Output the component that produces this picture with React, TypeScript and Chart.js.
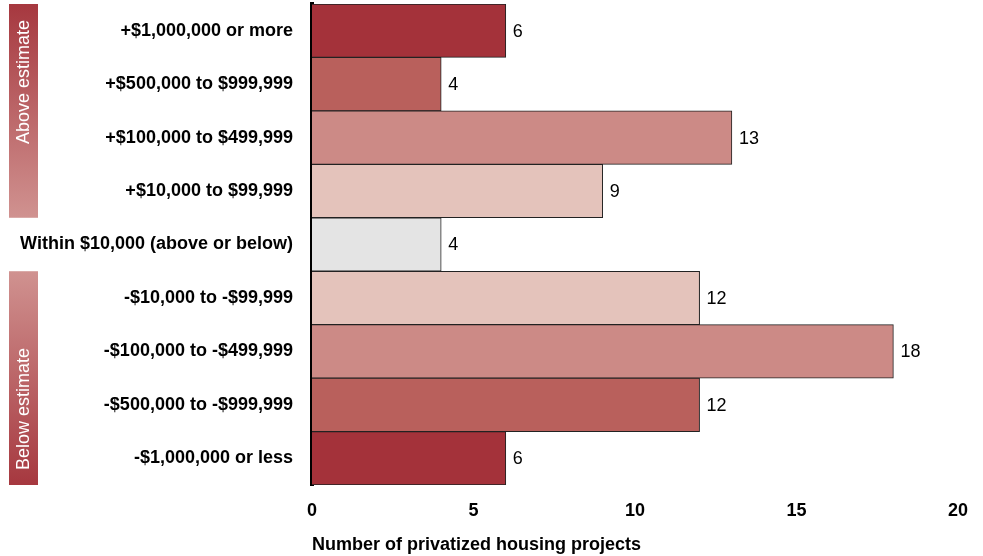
import React, { useEffect, useRef } from "react";
import { Chart, registerables } from "chart.js";

Chart.register(...registerables);

const categories = [
  "+$1,000,000 or more",
  "+$500,000 to $999,999",
  "+$100,000 to $499,999",
  "+$10,000 to $99,999",
  "Within $10,000 (above or below)",
  "-$10,000 to -$99,999",
  "-$100,000 to -$499,999",
  "-$500,000 to -$999,999",
  "-$1,000,000 or less",
];
const projectCounts = [6, 4, 13, 9, 4, 12, 18, 12, 6];
const barColors = [
  "#A4323A",
  "#B9605C",
  "#CC8A86",
  "#E4C3BB",
  "#E4E4E4",
  "#E4C3BB",
  "#CC8A86",
  "#B9605C",
  "#A4323A",
];
const groups = [
  { label: "Above estimate", from: 0, to: 3, topColor: "#A6383F", bottomColor: "#D09290", anchor: "top" },
  { label: "Below estimate", from: 5, to: 8, topColor: "#D09290", bottomColor: "#A6383F", anchor: "bottom" },
];
const xTicks = [0, 5, 10, 15, 20];
const axisTitle = "Number of privatized housing projects";

const FONT = "'Liberation Sans', Arial, sans-serif";

const overlayPlugin = {
  id: "overlay",
  afterDatasetsDraw(chart: any) {
    const ctx = chart.ctx;
    const meta = chart.getDatasetMeta(0);
    ctx.save();
    ctx.font = `18px ${FONT}`;
    ctx.fillStyle = "#000";
    ctx.textAlign = "left";
    ctx.textBaseline = "middle";
    meta.data.forEach((bar: any, i: number) => {
      ctx.fillText(String(projectCounts[i]), bar.x + 7, bar.y + 1);
    });
    const yScale = chart.scales.y;
    const half = (yScale.getPixelForValue(1) - yScale.getPixelForValue(0)) / 2;
    groups.forEach((g) => {
      const top = yScale.getPixelForValue(g.from) - half;
      const bottom = yScale.getPixelForValue(g.to) + half;
      const x0 = 9;
      const w = 29;
      const grad = ctx.createLinearGradient(0, top, 0, bottom);
      grad.addColorStop(0, g.topColor);
      grad.addColorStop(1, g.bottomColor);
      ctx.fillStyle = grad;
      ctx.fillRect(x0, top, w, bottom - top);
      ctx.save();
      if (g.anchor === "top") {
        ctx.translate(x0 + w / 2 + 1, top + 16);
        ctx.rotate(-Math.PI / 2);
        ctx.textAlign = "right";
      } else {
        ctx.translate(x0 + w / 2 + 1, bottom - 15);
        ctx.rotate(-Math.PI / 2);
        ctx.textAlign = "left";
      }
      ctx.fillStyle = "#fff";
      ctx.font = `18px ${FONT}`;
      ctx.textBaseline = "middle";
      ctx.fillText(g.label, 0, 0);
      ctx.restore();
    });
    ctx.restore();
  },
};

export default function App() {
  const ref = useRef<HTMLCanvasElement>(null);
  useEffect(() => {
    document.body.style.margin = "0";
    const chart = new Chart(ref.current!, {
      type: "bar",
      data: {
        labels: categories,
        datasets: [
          {
            data: projectCounts,
            backgroundColor: barColors,
            borderColor: "#222",
            borderWidth: 1,
            barPercentage: 1,
            categoryPercentage: 1,
          },
        ],
      },
      options: {
        indexAxis: "y",
        animation: false,
        responsive: false,
        maintainAspectRatio: false,
        layout: { padding: { top: 4, right: 25, left: 0, bottom: 0 } },
        plugins: {
          legend: { display: false },
          tooltip: { enabled: false },
        },
        scales: {
          x: {
            min: 0,
            max: 20,
            afterBuildTicks: (scale: any) => {
              scale.ticks = xTicks.map((v) => ({ value: v }));
            },
            grid: { display: false, drawTicks: false },
            border: { display: false },
            ticks: {
              color: "#000",
              font: { family: FONT, size: 18, weight: "bold" },
              padding: 15,
              maxRotation: 0,
            },
            title: {
              display: true,
              text: axisTitle,
              align: "start",
              color: "#000",
              font: { family: FONT, size: 18, weight: "bold" },
              padding: { top: 6, bottom: 0 },
            },
            afterFit: (scale: any) => {
              scale.height = 71;
              scale.paddingLeft = 0;
              scale.paddingRight = 0;
            },
          },
          y: {
            grid: { display: false, drawTicks: false },
            border: { display: true, color: "#000", width: 4 },
            ticks: {
              color: "#000",
              font: { family: FONT, size: 18, weight: "bold" },
              padding: 19,
              autoSkip: false,
            },
            afterFit: (scale: any) => {
              scale.width = 312;
              scale.paddingTop = 0;
              scale.paddingBottom = 0;
            },
          },
        },
      },
      plugins: [overlayPlugin],
    });
    return () => chart.destroy();
  }, []);
  return <canvas ref={ref} width={983} height={556} style={{ display: "block" }} />;
}
